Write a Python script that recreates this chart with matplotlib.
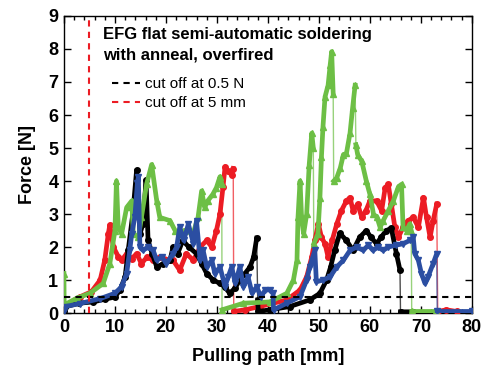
import numpy as np
import matplotlib
matplotlib.use('Agg')
import matplotlib.pyplot as plt
from matplotlib.ticker import MultipleLocator

plt.rcParams['font.family'] = ['Liberation Sans', 'DejaVu Sans']

# values
black_x = [0, 0.2, 3, 5.75, 8, 10, 11, 12, 12.6, 13.5, 14.25, 14.9, 15.5, 16.1, 16.5, 17.3,
           18.2, 19.5, 20.8, 21.4, 22.3, 23.3, 24.5, 26, 27, 28, 29.3, 30.6, 31.5, 32.5, 33.5,
           34.5, 35.5, 36.5, 37.2, 37.8, 38.0, 38.1, 40.4, 44.3, 48.2, 50.2, 51.5, 52.3, 53.1,
           54.1, 55.4, 56.7, 58, 59.3, 60.2, 61.3, 62.2, 63.2, 64.2, 65.2, 65.9, 66.0, 68.5]
black_y = [0.05, 0.19, 0.3, 0.34, 0.42, 0.49, 0.7, 1.1, 1.9, 3.0, 4.33, 2.4, 2.7, 4.03, 2.2, 1.8,
           1.4, 1.5, 1.6, 2.0, 1.8, 2.2, 2.0, 1.8, 1.5, 1.2, 1.0, 0.9, 0.8, 0.6, 0.75,
           1.0, 1.2, 1.4, 1.7, 2.27, 0.4, 0.05, 0.1, 0.2, 0.4, 0.6, 1.0, 1.4, 1.9,
           2.42, 2.2, 1.9, 2.3, 2.5, 2.3, 2.1, 2.3, 2.5, 2.57, 1.8, 1.3, 0.04, 0.04]

red_x = [0, 1.5, 3.1, 5.4, 7.1, 8, 8.7, 9.0, 9.7, 10.7, 11.3, 12.3, 13.3, 14.25, 15.2, 16.3,
         17.5, 18.8, 20.8, 21.4, 22.7, 24, 25.4, 26.7, 28, 29, 29.9, 30.6, 31.2, 31.6, 32.2,
         32.9, 33.2, 33.3, 35.5, 38.4, 43.7, 46.3, 47.6, 48.6, 49.2, 49.9, 50.5, 51.2, 51.8,
         52.6, 53.5, 54.4, 55.4, 56.1, 56.7, 57.6, 58.4, 59.2, 60, 61.3, 62.3, 63, 63.6, 64.2,
         64.9, 65.6, 66.5, 67.5, 68.5, 69.5, 70.5, 71.1, 71.8, 72.4, 73.1, 73.3, 75, 77]
red_y = [0.2, 0.35, 0.49, 0.65, 1.0, 1.6, 2.4, 2.67, 2.0, 1.7, 1.6, 1.8, 1.65, 1.8, 1.5, 1.7,
         1.6, 1.7, 1.6, 1.6, 1.3, 1.8, 1.6, 2.0, 2.2, 2.0, 2.5, 3.0, 3.83, 4.43, 4.3,
         4.18, 4.38, 0.05, 0.1, 0.2, 0.4, 0.7, 1.1, 1.7, 2.2, 2.7, 2.3, 2.1, 1.7,
         2.2, 2.7, 3.1, 3.4, 3.5, 3.1, 3.3, 2.9, 3.1, 3.4, 3.4, 3.1, 3.8, 3.9, 3.3,
         2.6, 2.3, 2.6, 2.8, 2.9, 2.6, 3.5, 2.9, 2.3, 2.8, 3.3, 0.05, 0.1, 0.05]

green_x = [0, 0.05, 2.5, 5.1, 7.7, 9, 10, 10.3, 10.65, 11.3, 12.3, 13.3, 13.6, 14.6, 15.2, 16.2,
           17.2, 18.2, 18.8, 20.8, 21.8, 22.7, 23.5, 25.3, 26.3, 27, 27.6, 28.2, 29.2, 29.9,
           30.6, 30.95, 31.0, 35.2, 40.4, 43.7, 45, 45.7, 45.9, 46.3, 46.6, 47.0, 47.6, 48.1,
           48.6, 48.9, 49.0, 49.8, 50.2, 50.5, 50.8, 51.2, 51.8, 52.2, 52.5, 52.8, 52.9, 53.5,
           54.2, 54.8, 55.4, 56.1, 56.6, 57.1, 57.25, 57.6, 58.4, 59.3, 60, 60.7, 61.4, 62,
           62.6, 63.6, 64.6, 65.6, 66.2, 66.5, 67.2, 67.8, 68.1, 68.2, 73]
green_y = [1.2, 0.25, 0.45, 0.6, 0.9, 1.5, 2.5, 4.0, 2.6, 2.4, 3.2, 3.4, 2.4, 2.3, 2.9, 3.9,
           4.5, 3.4, 2.9, 2.8, 2.5, 2.4, 2.5, 2.4, 2.9, 3.7, 3.2, 3.4, 3.6, 3.8,
           4.13, 3.9, 0.1, 0.3, 0.34, 0.6, 1.0, 1.6, 2.9, 4.0, 2.9, 2.4, 3.0, 4.5,
           5.45, 5.0, 2.1, 2.4, 3.5, 4.74, 5.65, 6.55, 6.9, 7.5, 7.92, 6.65, 4.0, 4.1,
           4.4, 4.8, 4.84, 5.45, 6.2, 6.9, 5.1, 4.8, 4.6, 4.0, 3.6, 3.0, 2.9, 2.6,
           2.8, 3.1, 3.4, 3.83, 3.9, 2.6, 2.5, 2.7, 2.5, 0.05, 0.05]

blue_x = [0, 0.3, 3.1, 7.1, 10, 11.3, 12.3, 12.9, 13.3, 13.9, 14.4, 14.6, 14.9, 15.5, 16.5,
          17.5, 18.2, 19.2, 20.1, 21.4, 22.1, 22.7, 23.5, 24.4, 25.4, 26.0, 26.7, 27.3, 28,
          29, 29.6, 30.6, 31.6, 32.2, 32.9, 33.6, 34.5, 35.2, 36.1, 36.9, 37.8, 38.6, 39.5,
          40.4, 41.0, 41.1, 43.7, 46.3, 47.6, 48.2, 49.2, 49.5, 50.8, 52.2, 53.5, 54.8, 56.1,
          57.4, 58.7, 59.7, 60.6, 61.6, 62.6, 63.6, 65.2, 66.5, 67.8, 68.5, 68.8, 69.5, 70.1,
          70.8, 71.4, 72.4, 73.1, 73.2, 80]
blue_y = [0.05, 0.2, 0.29, 0.44, 0.6, 0.8, 1.2, 1.9, 2.4, 2.9, 3.93, 4.13, 2.0, 1.9, 2.0,
          1.9, 1.6, 1.7, 1.5, 1.8, 2.0, 2.6, 2.2, 2.7, 2.1, 2.8, 1.6, 1.9, 1.4,
          1.6, 1.2, 1.4, 0.8, 1.1, 1.4, 0.9, 1.4, 0.8, 1.1, 0.6, 0.8, 0.5, 0.7,
          0.7, 0.6, 0.1, 0.3, 0.5, 1.0, 1.4, 1.9, 0.95, 1.0, 1.1, 1.4, 1.6, 1.9,
          2.0, 1.9, 2.06, 1.9, 2.0, 1.9, 2.0, 2.06, 2.1, 2.2, 2.3, 1.8, 1.6, 1.2,
          0.9, 1.1, 1.5, 1.8, 0.05, 0.05]

cutoff_force = 0.5
cutoff_path = 5

fig = plt.figure(figsize=(4.88, 3.71), dpi=100)
ax = fig.add_axes([0.131, 0.156, 0.836, 0.801])

series = [
    (red_x, red_y, '#ec1c24', 'o'),
    (black_x, black_y, '#000000', 'o'),
    (green_x, green_y, '#6dbf45', '^'),
    (blue_x, blue_y, '#2b4ea2', 'v'),
]

for xs, ys, col, mk in series:
    xs = np.array(xs, dtype=float)
    ys = np.array(ys, dtype=float)
    # thin line through everything (steep drops stay thin like in the original)
    ax.plot(xs, ys, color=col, lw=1.0, alpha=0.7, zorder=2)
    # thick marker line, broken at steep drops
    tx, ty = [xs[0]], [ys[0]]
    for i in range(1, len(xs)):
        if ys[i] - ys[i - 1] < -1.0 and xs[i] - xs[i - 1] < 0.25:
            tx.append(np.nan)
            ty.append(np.nan)
        tx.append(xs[i])
        ty.append(ys[i])
    ax.plot(tx, ty, color=col, lw=3.4, zorder=3)
    ax.plot(xs, ys, ls='none', marker=mk, ms=4, color=col, zorder=3)

ax.axhline(cutoff_force, color='black', ls=(0, (3, 2.5)), lw=1.5, zorder=4)
ax.axvline(cutoff_path, color='#ec1c24', ls=(0, (3, 2.5)), lw=1.5, zorder=4)

ax.set_xlim(0, 80)
ax.set_ylim(0, 9)
ax.xaxis.set_major_locator(MultipleLocator(10))
ax.xaxis.set_minor_locator(MultipleLocator(2))
ax.yaxis.set_major_locator(MultipleLocator(1))
ax.tick_params(which='both', direction='in', top=True, right=True, width=1)
ax.tick_params(which='major', length=5, labelsize=13, pad=4)
ax.tick_params(which='minor', length=3)
for lbl in ax.get_xticklabels() + ax.get_yticklabels():
    lbl.set_fontweight('bold')
for sp in ax.spines.values():
    sp.set_linewidth(1.0)

ax.set_xlabel('Pulling path [mm]', fontsize=13, fontweight='bold', labelpad=9)
ax.set_ylabel('Force [N]', fontsize=13, fontweight='bold', labelpad=9)

ax.text(0.096, 0.962, 'EFG flat semi-automatic soldering\nwith anneal, overfired',
        transform=ax.transAxes, ha='left', va='top', fontsize=12, fontweight='bold',
        linespacing=1.45)

h1, = ax.plot([], [], color='black', ls=(0, (3, 2.5)), lw=1.5)
h2, = ax.plot([], [], color='#ec1c24', ls=(0, (3, 2.5)), lw=1.5)
ax.legend([h1, h2], ['cut off at 0.5 N', 'cut off at 5 mm'], loc='upper left',
          bbox_to_anchor=(0.118, 0.795), frameon=False, fontsize=11,
          handlelength=1.8, handletextpad=0.35, labelspacing=0.35,
          borderpad=0, borderaxespad=0)

fig.savefig('out.png', dpi=100)
